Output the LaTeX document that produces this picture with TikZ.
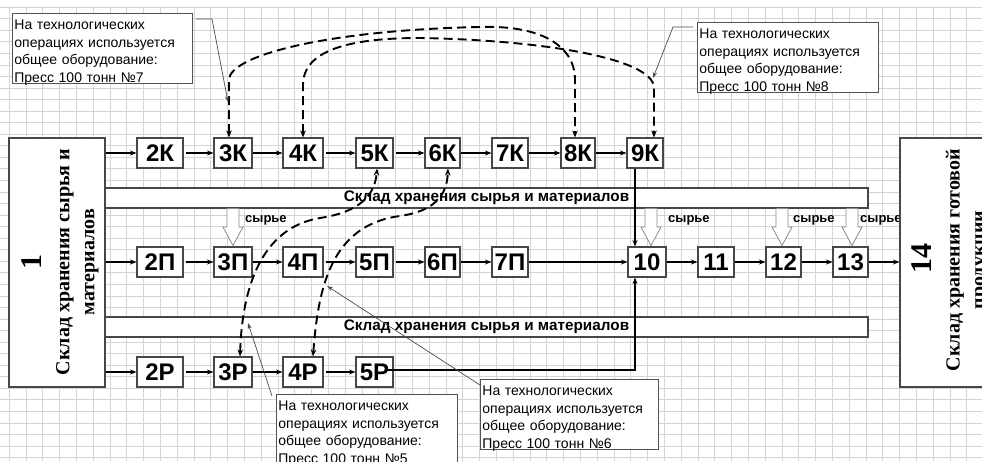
\documentclass[tikz,border=0pt]{standalone}
\usepackage{fontspec}
\setmainfont{Liberation Sans}
\newfontfamily\tnr{Liberation Serif}
\usetikzlibrary{arrows.meta}
\begin{document}
\begin{tikzpicture}[x=1pt,y=-1pt,
  gridline/.style={draw=black!17, line width=0.5pt},
  box/.style={draw=black!72, line width=1.1pt, fill=white, inner sep=0pt,
    font=\fontsize{24}{24}\selectfont\bfseries, minimum height=30pt},
  bigbox/.style={draw=black!72, line width=1.1pt, fill=white, inner sep=0pt,
    minimum width=96pt, minimum height=249pt},
  bar/.style={draw=black!72, line width=1.1pt, fill=white, inner sep=0pt,
    minimum width=763pt, minimum height=20pt, font=\fontsize{15.3}{16}\selectfont\bfseries},
  flow/.style={line width=1.2pt, -{Stealth[length=6.5pt,width=5pt]}},
  dsh/.style={line width=1.9pt, dash pattern=on 9pt off 5pt,
    {Stealth[length=7pt,width=5.5pt]}-{Stealth[length=7pt,width=5.5pt]}},
  hollow/.style={draw=black!45, line width=0.8pt, fill=white},
  raw/.style={font=\fontsize{13}{14}\selectfont\bfseries, anchor=west, inner sep=0pt},
  callout/.style={draw=black!68, line width=0.8pt, fill=white, align=left,
    anchor=north west, inner xsep=2pt, inner ysep=1pt,
    font=\fontsize{14}{17.7}\selectfont},
  lead/.style={draw=black!70, line width=0.7pt, -{Stealth[length=6pt,width=4pt]}},
  vtext/.style={rotate=90, align=center, inner sep=0pt}
]
\useasboundingbox (0,0) rectangle (982,461);
\clip (0,0) rectangle (982,461);
\fill[white] (0,0) rectangle (982,461);

% spreadsheet grid
\foreach \i in {0,...,59} \draw[gridline] ({-7.8+16.8*\i},7) -- ({-7.8+16.8*\i},461);
\foreach \j in {0,...,40} \draw[gridline] (0,{7+11.55*\j}) -- (982,{7+11.55*\j});

% storage bars
\node[bar] (bar1) at (486.5,198) {Склад хранения сырья и материалов};
\node[bar] (bar2) at (486.5,327) {Склад хранения сырья и материалов};

% raw material block arrows
\foreach \x in {233,651,782,852}
  \draw[hollow] (\x-6,208.5) -- (\x+6,208.5) -- (\x+6,227) -- (\x+10,227) -- (\x,245.5)
     -- (\x-10,227) -- (\x-6,227) -- cycle;
\node[raw] (s1) at (245,220) {сырье};
\node[raw] (s2) at (668,220) {сырье};
\node[raw] (s3) at (793,220) {сырье};
\node[raw] (s4) at (860,220) {сырье};

% big boxes
\node[bigbox] (b1) at (57,262.5) {};
\node[bigbox] (b14) at (948,262.5) {};
\node[vtext, font=\tnr\bfseries\fontsize{30}{30}\selectfont] (b1n) at (32,262) {1};
\node[vtext, font=\tnr\bfseries\fontsize{20}{25}\selectfont] (b1t) at (77.5,262) {Склад хранения сырья и\\материалов};
\node[vtext, font=\tnr\bfseries\fontsize{30}{30}\selectfont] (b14n) at (922,258) {14};
\node[vtext, font=\tnr\bfseries\fontsize{20}{25}\selectfont] (b14t) at (967.5,260) {Склад хранения готовой\\продукции};

% K row
\node[box, minimum width=46pt] (k2) at (160,153) {2К};
\node[box, minimum width=38pt] (k3) at (233,153) {3К};
\node[box, minimum width=40pt] (k4) at (303,153) {4К};
\node[box, minimum width=37pt] (k5) at (374.5,153) {5К};
\node[box, minimum width=35pt] (k6) at (442.5,153) {6К};
\node[box, minimum width=36pt] (k7) at (510,153) {7К};
\node[box, minimum width=34pt] (k8) at (578,153) {8К};
\node[box, minimum width=36pt] (k9) at (645,153) {9К};
% P row
\node[box, minimum width=46pt] (p2) at (160,262) {2П};
\node[box, minimum width=38pt] (p3) at (233,262) {3П};
\node[box, minimum width=40pt] (p4) at (303,262) {4П};
\node[box, minimum width=37pt] (p5) at (374.5,262) {5П};
\node[box, minimum width=35pt] (p6) at (442.5,262) {6П};
\node[box, minimum width=36pt] (p7) at (510,262) {7П};
\node[box, minimum width=38pt] (n10) at (647,262) {10};
\node[box, minimum width=36pt] (n11) at (716,262) {11};
\node[box, minimum width=35pt] (n12) at (783.5,262) {12};
\node[box, minimum width=35pt] (n13) at (850.5,262) {13};
% R row
\node[box, minimum width=46pt] (r2) at (160,372) {2Р};
\node[box, minimum width=38pt] (r3) at (233,372) {3Р};
\node[box, minimum width=40pt] (r4) at (303,372) {4Р};
\node[box, minimum width=37pt] (r5) at (374.5,372) {5Р};

% flow arrows
\draw[flow] (b1.east |- k2) -- (k2.west);
\draw[flow] ([xshift=2pt]k2.east) -- (k3.west);
\draw[flow] (k3.east) -- (k4.west);
\draw[flow] ([xshift=2pt]k4.east) -- (k5.west);
\draw[flow] ([xshift=2pt]k5.east) -- (k6.west);
\draw[flow] (k6.east) -- (k7.west);
\draw[flow] (k7.east) -- (k8.west);
\draw[flow] (k8.east) -- (k9.west);

\draw[flow] (b1.east |- p2) -- (p2.west);
\draw[flow] ([xshift=2pt]p2.east) -- (p3.west);
\draw[flow] (p3.east) -- (p4.west);
\draw[flow] ([xshift=2pt]p4.east) -- (p5.west);
\draw[flow] ([xshift=2pt]p5.east) -- (p6.west);
\draw[flow] (p6.east) -- (p7.west);
\draw[flow, line width=1.4pt] (p7.east) -- (n10.west);
\draw[flow] (n10.east) -- (n11.west);
\draw[flow] (n11.east) -- (n12.west);
\draw[flow] (n12.east) -- (n13.west);
\draw[flow] (n13.east) -- (b14.west |- n13);

\draw[flow] (b1.east |- r2) -- (r2.west);
\draw[flow] ([xshift=2pt]r2.east) -- (r3.west);
\draw[flow] (r3.east) -- (r4.west);
\draw[flow] ([xshift=2pt]r4.east) -- (r5.west);

\coordinate (v) at (635,0);
\draw[flow] (v |- k9.south) -- (v |- n10.north);
\draw[flow, line width=1.9pt] ([xshift=-6pt,yshift=2pt]r5.east) -- (v |- 0,370) -- (v |- n10.south);

% shared-equipment dashed links
\draw[dsh] ([xshift=-4pt]k3.north) -- (229,80) .. controls (229,55) and (330,30) .. (480,27)
  .. controls (540,25) and (575,45) .. (575,80) -- ([xshift=-3pt]k8.north);
\draw[dsh] (k4.north) -- (303,85) .. controls (303,50) and (350,38) .. (420,38)
  .. controls (540,40) and (654,58) .. (654,88) -- ([xshift=9pt]k9.north);
\draw[dsh] ([xshift=7pt]r3.north) .. controls (242,290) and (260,228) .. (320,218)
  .. controls (360,212) and (375,195) .. ([xshift=2.5pt]k5.south);
\draw[dsh] ([xshift=10pt]r4.north) .. controls (318,290) and (330,225) .. (400,216)
  .. controls (435,211) and (447,195) .. ([xshift=5.5pt]k6.south);

% callouts
\node[callout, text width=176pt] (c7) at (12,13) {\rule{0pt}{15pt}На технологических\\операциях используется\\общее оборудование:\\\smash{Пресс 100 тонн №7}};
\node[callout, text width=177pt] (c8) at (697,22) {\rule{0pt}{15pt}На технологических\\операциях используется\\общее оборудование:\\\smash{Пресс 100 тонн №8}};
\node[callout, text width=177pt] (c5) at (276,394) {\rule{0pt}{15pt}На технологических\\операциях используется\\общее оборудование:\\\smash{Пресс 100 тонн №5}};
\node[callout, text width=174pt] (c6) at (480,379) {\rule{0pt}{15pt}На технологических\\операциях используется\\общее оборудование:\\\smash{Пресс 100 тонн №6}};

\coordinate (t7) at (228,102);
\coordinate (t8) at (653,78);
\coordinate (t5) at (248,323);
\coordinate (t6) at (327,286);
\draw[lead] ([xshift=3pt,yshift=-6pt]c7.north east) -- (212,19) -- (t7);
\draw[lead] ([xshift=-4pt,yshift=-5pt]c8.north west) -- (673,27) -- (t8);
\draw[lead] ([xshift=-4pt,yshift=-2pt]c5.north west) -- (t5);
\draw[lead] ([yshift=-6pt]c6.north west) -- (t6);
\end{tikzpicture}
\end{document}
